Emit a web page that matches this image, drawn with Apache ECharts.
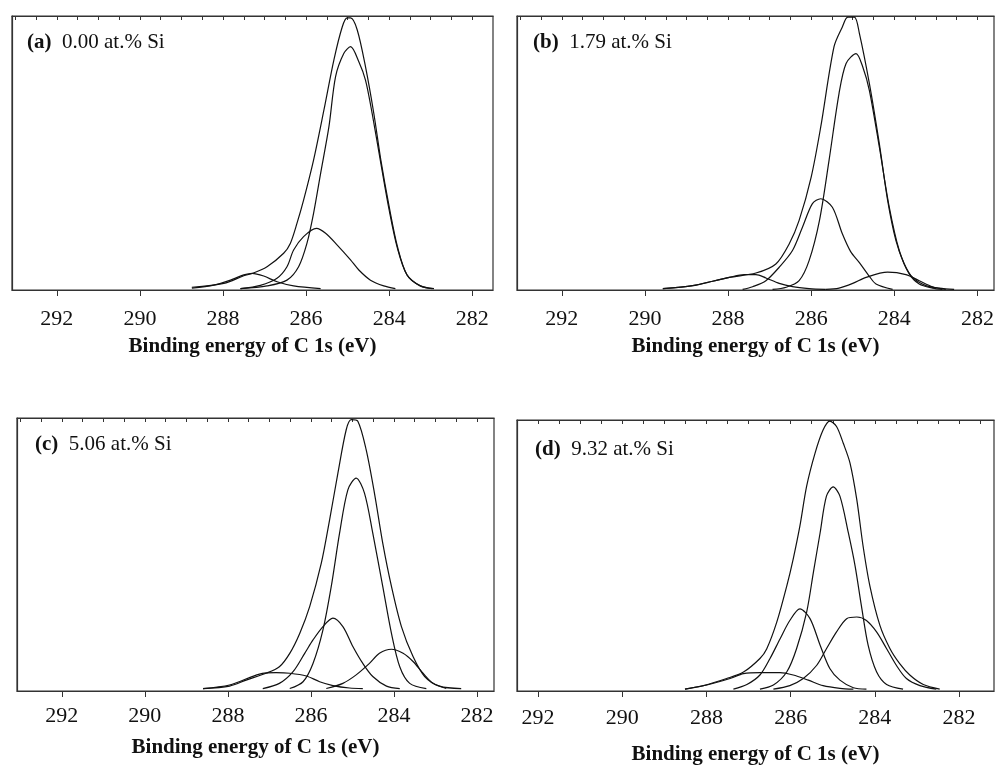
<!DOCTYPE html>
<html>
<head>
<meta charset="utf-8">
<title>C 1s XPS</title>
<script src="https://cdn.jsdelivr.net/npm/echarts@6/dist/echarts.min.js"></script>
<style>
  html, body { margin: 0; padding: 0; background: #fff; }
  #main { width: 1000px; height: 766px; }
</style>
</head>
<body>
<div id="main"></div>
<script>
// tick labels
const majorTicks = [282, 284, 286, 288, 290, 292];
const minorTicks = [282, 282.5, 283, 283.5, 284, 284.5, 285, 285.5, 286, 286.5, 287, 287.5, 288, 288.5, 289, 289.5, 290, 290.5, 291, 291.5, 292, 292.5, 293];
const minorTicksD = [281.5, 282, 282.5, 283, 283.5, 284, 284.5, 285, 285.5, 286, 286.5, 287, 287.5, 288, 288.5, 289, 289.5, 290, 290.5, 291, 291.5, 292];

const panelTags = ['(a)', '(b)', '(c)', '(d)'];
const panelLabels = ['0.00 at.% Si', '1.79 at.% Si', '5.06 at.% Si', '9.32 at.% Si'];

// (a) 0.00 at.% Si  [binding energy eV, intensity %]
const envA = [[288.75,1],[287.98,2.4],[287.5,5.2],[287.3,6],[286.94,8.5],[286.54,13.4],[286.38,17],[286.22,24.3],[286.06,32.8],[285.82,47.4],[285.57,65.7],[285.33,84],[285.13,96],[285.01,99.3],[284.93,99.3],[284.77,95],[284.57,81.5],[284.37,64.5],[284.2,47.4],[284.0,30.4],[283.8,15.8],[283.57,5.5],[283.25,1.5],[282.92,0.5]];
const mainA = [[287.58,0.5],[286.94,1.5],[286.46,3.6],[286.18,8.5],[285.98,17],[285.82,28],[285.65,42.6],[285.45,59.6],[285.29,77.9],[285.09,86.4],[284.93,88.8],[284.73,83.3],[284.57,76.6],[284.41,64.5],[284.2,46.2],[284.0,29.2],[283.8,15.2],[283.57,5.5],[283.25,1.5],[282.96,0.5]];
const coA = [[287.58,0.5],[287.1,1.7],[286.7,4.3],[286.46,8.5],[286.3,14.6],[286.06,19.5],[285.75,22.5],[285.53,20.7],[285.25,16.4],[284.93,11],[284.73,7.3],[284.45,3.6],[284.13,1.5],[283.85,0.5]];
const hiA = [[288.75,0.7],[288.22,1.8],[287.82,3.6],[287.5,5.5],[287.3,6.1],[287.02,5.1],[286.7,3],[286.3,1.5],[285.65,0.5]];

// (b) 1.79 at.% Si
const envB = [[289.57,0.5],[288.85,1.6],[287.97,4.6],[287.33,6.2],[286.85,9.5],[286.53,16.8],[286.29,25.4],[286.0,41.2],[285.77,59.5],[285.45,88.8],[285.25,96],[285.12,99.6],[284.96,99.6],[284.84,93.7],[284.6,75.4],[284.36,53.4],[284.16,32.7],[283.96,18],[283.76,9.5],[283.56,4.6],[283.24,1.6],[282.92,0.7],[282.56,0.2]];
const mainB = [[286.93,0.2],[286.6,1],[286.29,3.4],[286.05,10.7],[285.8,25.4],[285.57,47.3],[285.33,71.7],[285.16,82.7],[284.92,86.3],[284.76,81.5],[284.6,72.9],[284.36,52.2],[284.12,30.2],[283.88,14.4],[283.64,5.9],[283.4,2.2],[283.08,0.7],[282.84,0.2]];
const coB = [[287.65,0.2],[287.41,1.2],[287.09,3.4],[286.77,8.3],[286.45,14.4],[286.21,22.9],[285.97,31.5],[285.77,33.3],[285.49,30.2],[285.25,20.5],[285.05,14],[284.84,10],[284.6,5],[284.44,2.2],[284.04,0.2]];
const hiB = [[289.57,0.5],[288.85,1.6],[288.37,3.2],[287.97,4.6],[287.61,5.6],[287.33,5.6],[287.09,4.4],[286.77,2.4],[286.45,1.2],[286.05,0.5],[285.65,0.2]];
const loB = [[285.65,0.2],[285.33,0.7],[285.0,2.4],[284.68,4.6],[284.16,6.5],[283.72,5.6],[283.4,3.4],[283.08,1.2],[282.76,0.2]];

// (c) 5.06 at.% Si
const envC = [[288.6,0.9],[287.96,1.8],[287.56,4],[287.08,6.5],[286.76,8.9],[286.51,13.8],[286.27,21.1],[286.03,30.9],[285.75,46.8],[285.55,62.7],[285.35,79.8],[285.15,95.7],[285.03,99.4],[284.87,98.8],[284.67,88.4],[284.47,72.5],[284.27,54.2],[284.06,38.3],[283.82,23.6],[283.54,12.6],[283.26,5.3],[282.9,1.8],[282.38,0.9]];
const mainC = [[286.51,0.9],[286.19,3.4],[285.95,10.1],[285.71,22.4],[285.51,38.3],[285.31,57.8],[285.11,73.7],[284.91,78],[284.71,72.5],[284.51,57.8],[284.27,38.3],[284.06,21.1],[283.86,8.9],[283.62,2.8],[283.22,0.9]];
const coC = [[287.16,0.9],[286.76,2.8],[286.43,7.1],[286.15,13.8],[285.95,18.7],[285.71,23.6],[285.47,26.7],[285.23,23.6],[284.99,16.3],[284.75,10.1],[284.51,5.3],[284.18,1.8],[283.86,0.9]];
const loC = [[285.63,0.9],[285.23,2.8],[284.91,5.9],[284.59,10.1],[284.35,13.8],[284.06,15.3],[283.78,13.8],[283.54,10.8],[283.3,6.5],[283.06,2.8],[282.74,0.9]];
const hiC = [[288.6,0.9],[287.96,2.2],[287.24,6.2],[286.84,6.7],[286.51,6.5],[286.11,5.5],[285.79,3.4],[285.47,2],[285.07,1.1],[284.75,0.9]];

// (d) 9.32 at.% Si
const envD = [[288.51,0.7],[288.07,2],[287.52,4.6],[287.12,7],[286.73,12],[286.57,15.5],[286.33,25.4],[286.09,38.9],[285.94,48.7],[285.78,60.9],[285.62,75.6],[285.42,87.8],[285.23,96.3],[285.07,99.6],[284.91,97.6],[284.75,91.4],[284.59,84.1],[284.43,70.7],[284.28,53.5],[284.12,38.9],[283.88,24.2],[283.64,15.6],[283.41,10.1],[283.17,5.9],[282.85,2.4],[282.46,0.7]];
const mainD = [[286.73,0.7],[286.41,2.2],[286.09,7.1],[285.86,15.6],[285.62,29.1],[285.46,43.8],[285.3,58.4],[285.15,71.9],[284.99,75.3],[284.83,71.9],[284.63,58.4],[284.47,46.2],[284.32,31.5],[284.16,16.9],[283.96,7.1],[283.72,2.4],[283.33,0.7]];
const coD = [[287.36,0.7],[287.04,2.4],[286.73,5.9],[286.49,12],[286.25,19.3],[286.02,26],[285.78,30.3],[285.54,26.7],[285.3,16.9],[285.07,8.3],[284.83,4],[284.51,1.2],[284.2,0.7]];
const loD = [[286.41,0.7],[286.02,2],[285.7,4.6],[285.38,9.5],[285.15,15.6],[284.91,21.8],[284.67,26.7],[284.43,27.3],[284.2,26],[283.96,21.8],[283.72,15.6],[283.49,9.5],[283.25,4.6],[282.93,2],[282.54,0.7]];
const hiD = [[288.51,0.7],[287.99,2.2],[287.44,4.6],[287.12,6.4],[286.73,6.8],[286.25,6.8],[285.94,5.9],[285.58,4],[285.23,2],[284.83,1],[284.51,0.7]];

const FONT = '"Liberation Serif", "Times New Roman", serif';

// layout of the 4 panels
const panels = [
  { grid: { left: 12, top: 16, width: 481, height: 274 }, min: 281.5, max: 293.08, minor: minorTicks, gap: 18, nameGap: 46, tag: [27, 32], curves: [envA, mainA, coA, hiA] },
  { grid: { left: 517, top: 16, width: 477, height: 274 }, min: 281.6, max: 293.08, minor: minorTicks, gap: 18, nameGap: 46, tag: [533, 32], curves: [envB, mainB, coB, hiB, loB] },
  { grid: { left: 17, top: 418, width: 477, height: 273 }, min: 281.59, max: 293.08, minor: minorTicks, gap: 14, nameGap: 46, tag: [35, 434], curves: [envC, mainC, coC, loC, hiC] },
  { grid: { left: 517, top: 420, width: 477, height: 273 }, min: 281.17, max: 292.5, minor: minorTicksD, gap: 16, nameGap: 53, tag: [535, 439], curves: [envD, mainD, coD, loD, hiD] }
];

const chart = echarts.init(document.getElementById('main'));

var grids = [], xAxes = [], yAxes = [], series = [], titles = [];
panels.forEach(function (p, i) {
  grids.push(Object.assign({ show: true, borderColor: '#333', borderWidth: 1.2, backgroundColor: '#fff' }, p.grid));
  // bottom axis, major ticks outward
  xAxes.push({
    type: 'value', gridIndex: i, position: 'bottom', inverse: true,
    min: p.min, max: p.max,
    axisLine: { lineStyle: { color: '#333', width: 1.2 } },
    axisTick: { show: true, inside: false, length: 6, customValues: majorTicks, lineStyle: { color: '#333' } },
    axisLabel: { customValues: majorTicks, color: '#111', fontFamily: FONT, fontSize: 22, margin: p.gap },
    splitLine: { show: false },
    name: 'Binding energy of C 1s (eV)', nameLocation: 'middle', nameGap: p.nameGap,
    nameTextStyle: { color: '#111', fontFamily: FONT, fontSize: 21, fontWeight: 'bold' }
  });
  // top axis, small ticks inward
  xAxes.push({
    type: 'value', gridIndex: i, position: 'top', inverse: true,
    min: p.min, max: p.max,
    axisLine: { lineStyle: { color: '#333', width: 1.2 } },
    axisTick: { show: true, inside: true, length: 4, customValues: p.minor, lineStyle: { color: '#333' } },
    axisLabel: { show: false },
    splitLine: { show: false }
  });
  yAxes.push({
    type: 'value', gridIndex: i, min: 0, max: 100,
    axisLine: { show: true, lineStyle: { color: '#333', width: 1.2 } },
    axisTick: { show: false }, axisLabel: { show: false }, splitLine: { show: false }
  });
  p.curves.forEach(function (c) {
    series.push({
      type: 'line', xAxisIndex: 2 * i, yAxisIndex: i, data: c,
      showSymbol: false, smooth: 0.3, silent: true,
      lineStyle: { color: '#111', width: 1.2 }
    });
  });
  titles.push({
    text: '{b|' + panelTags[i] + '}  ' + panelLabels[i],
    left: p.tag[0], top: p.tag[1], padding: 0,
    textStyle: {
      fontFamily: FONT, fontSize: 21, fontWeight: 'normal', color: '#111',
      rich: { b: { fontFamily: FONT, fontSize: 21, fontWeight: 'bold', color: '#111' } }
    }
  });
});

chart.setOption({
  animation: false,
  backgroundColor: '#fff',
  title: titles,
  grid: grids,
  xAxis: xAxes,
  yAxis: yAxes,
  series: series
});
</script>
</body>
</html>
